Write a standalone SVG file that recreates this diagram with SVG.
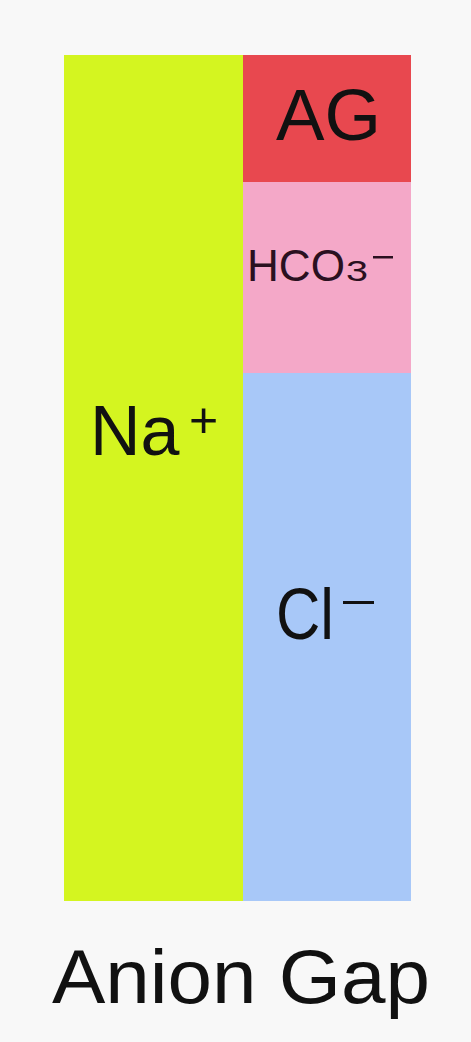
<svg xmlns="http://www.w3.org/2000/svg" width="471" height="1042" viewBox="0 0 471 1042">
<style>
text{font-family:"Liberation Sans",Arial,sans-serif;fill:#111}
</style>
<rect x="0" y="0" width="471" height="1042" fill="#f8f8f8"/>
<g id="na">
<rect x="64" y="55" width="179" height="846" fill="#d4f520"/>
<text x="90" y="455" font-size="70">Na</text>
<text x="189" y="437" font-size="50">+</text>
</g>
<g id="ag">
<rect x="243" y="55" width="168" height="127" fill="#e8484f"/>
<text x="276" y="140" font-size="72" textLength="105" lengthAdjust="spacingAndGlyphs">AG</text>
</g>
<g id="hco3">
<rect x="243" y="182" width="168" height="191" fill="#f4a8c8"/>
<text x="247" y="281" font-size="44" textLength="98" lengthAdjust="spacingAndGlyphs" style="fill:#2a1020">HCO</text>
<text x="346" y="281" font-size="29" textLength="22" lengthAdjust="spacingAndGlyphs" style="fill:#2a1020">3</text>
<rect x="373" y="256" width="20" height="2.5" fill="#2a1020"/>
</g>
<g id="cl">
<rect x="243" y="373" width="168" height="528" fill="#a8c8f8"/>
<text x="276" y="639" font-size="72" textLength="58" lengthAdjust="spacingAndGlyphs">Cl</text>
<rect x="343" y="601" width="31" height="3" fill="#111"/>
</g>
<g id="title">
<text x="52" y="1003" font-size="76" textLength="378" lengthAdjust="spacingAndGlyphs">Anion Gap</text>
</g>
</svg>
